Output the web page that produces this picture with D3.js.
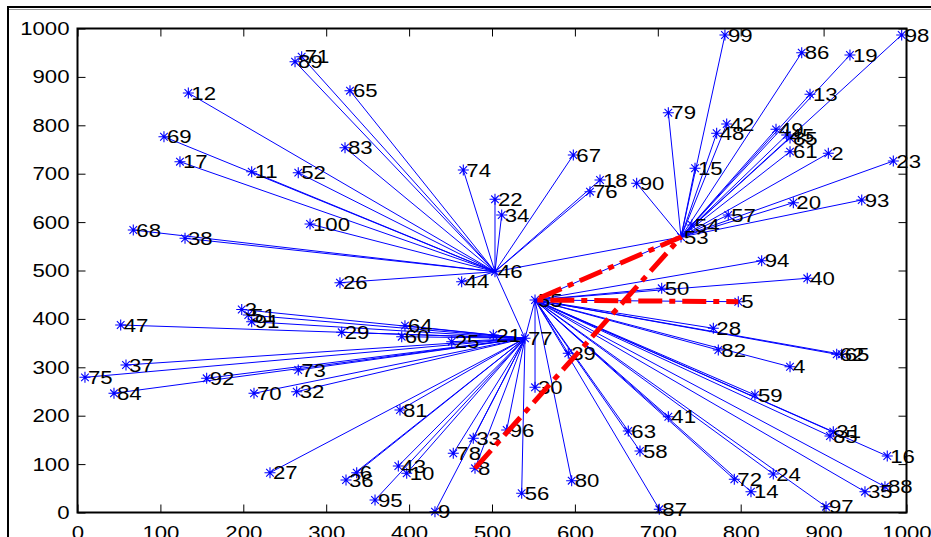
<!DOCTYPE html>
<html><head><meta charset="utf-8">
<script src="https://cdn.jsdelivr.net/npm/d3@7"></script>
<style>body{margin:0;background:#fff;overflow:hidden}</style>
</head><body>
<svg id="c" width="931" height="537"></svg>
<script>
// ---- data ----
const nodeLabels = ["12","69","17","71","89","65","83","11","52","74","67","18","76","100","68","38","26","44","22","34",
 "46","79","90","99","86","19","98","13","42","48","49","45","85","15","61","2","23","54","57","20","93","53",
 "55","5","50","94","40","28","82","4","62","65","59","31","85","16","88","35","97","24","14","72","87","41","63","58","80","39","30",
 "77","47","3","51","91","29","64","60","25","21","37","75","84","92","73","70","32","81","27","6","36","43","10","95","9","78","33","96","56","8"];
const nodeX = [133.7,104.3,123.6,270.4,262.4,328.7,322.7,210.1,266.3,465.4,598.1,630.3,618.2,280.5,67.3,129.7,316.6,463.4,503.6,511.7,
 503.6,712.7,674.5,781,873.6,931.8,994.2,883.6,783.1,771,842.6,855.5,859.5,744.9,859.5,905.7,984.1,741,785,863.5,946,728,
 551.9,797.1,704.7,825.3,880.3,767,773,859.5,915.8,921.8,817.2,911.7,907.7,976.8,974,949.9,902.9,839.3,812.4,792.3,701.8,712.7,664.4,678.5,596.1,592,551.9,
 539.8,52.1,198.1,206,210.1,318.7,395,391.1,451.4,501.6,58.5,9,44,155.8,266.3,212.9,264.4,389,232.2,336.8,323.9,387,397.1,358.9,431.2,453.3,477.4,517.7,535.8,479.5];
const nodeY = [866.7,776.4,724.8,941.7,931.4,871.5,753.7,704.1,702.1,707.6,738.6,687,662.8,596.1,583.7,566.5,474.8,476.9,647.1,614.7,
 497.5,826,680.2,986.6,950,945.2,986.6,864,802.7,783.5,791.7,780,773.8,711.2,745.5,742.1,726.2,594,614.7,640.1,645.7,569.2,
 439,435.5,463.2,520.2,483.9,380.6,335.7,301.2,326.9,326.9,242.8,166.9,158.1,116.7,53.3,43,12,79.5,43,68.6,6.6,197.9,168.4,127.1,65.7,328.9,258.7,
 359.9,387.4,419.4,408,394.2,372.3,386,363.2,352.9,366.7,304.8,279.3,246.3,277.3,294.4,246.3,249.6,211.8,82.2,82.2,67.1,96.1,81,25.8,1.7,122.3,153.3,170.5,39.7,91.3];
const nodeHead = ["46","46","46","46","46","46","46","46","46","46","46","46","46","46","46","46","46","46","46","46",
 "53","53","53","53","53","53","53","53","53","53","53","53","53","53","53","53","53","53","53","53","53","",
 "53","55","55","55","55","55","55","55","55","55","55","55","55","55","55","55","55","55","55","55","55","55","55","55","55","55","55",
 "55","77","77","77","77","77","77","77","77","77","77","77","77","77","77","77","77","77","77","77","77","77","77","77","77","77","77","77","77","77"];
const extraLinks = [["46","77"]];
const routePath = ["8","53","55","5"];
const xTicks = [0,100,200,300,400,500,600,700,800,900,1000];
const yTicks = [0,100,200,300,400,500,600,700,800,900,1000];

// ---- drawing ----
const svg = d3.select("#c");
const x = d3.scaleLinear().domain([0,1000]).range([77.5,906.5]);
const y = d3.scaleLinear().domain([0,1000]).range([512.5,28.5]);
const SX = 1.2;
const FONT = "'Liberation Sans', Arial, sans-serif";

svg.append("rect").attr("width",931).attr("height",537).attr("fill","#fff");
// outer frame
svg.append("rect").attr("x",8).attr("y",7).attr("width",960).attr("height",560)
  .attr("fill","none").attr("stroke","#000").attr("stroke-width",2);
svg.append("line").attr("x1",9).attr("x2",931).attr("y1",9.5).attr("y2",9.5).attr("stroke","#999").attr("stroke-width",1);

const idx = {};
nodeLabels.forEach((l,i)=>{ if(!(l in idx)) idx[l]=i; });
const nodes = nodeLabels.map((l,i)=>({label:l,x:nodeX[i],y:nodeY[i],head:nodeHead[i]}));

const links = [];
nodes.forEach(n=>{ if(n.head) links.push([n, nodes[idx[n.head]]]); });
extraLinks.forEach(([a,b])=>links.push([nodes[idx[a]],nodes[idx[b]]]));

const gl = svg.append("g");
gl.selectAll("line").data(links).join("line")
  .attr("x1",d=>x(d[0].x)).attr("y1",d=>y(d[0].y))
  .attr("x2",d=>x(d[1].x)).attr("y2",d=>y(d[1].y))
  .attr("stroke","#0000ff").attr("stroke-width",1);

// asterisk markers
const star = "M-5.5,0H5.5M0,-5.5V5.5M-3.8,-3.8L3.8,3.8M-3.8,3.8L3.8,-3.8";
svg.append("g").selectAll("path").data(nodes).join("path")
  .attr("d",star).attr("transform",d=>`translate(${x(d.x)},${y(d.y)})`)
  .attr("stroke","#0000ff").attr("stroke-width",1.1).attr("fill","none");

svg.append("g").selectAll("text").data(nodes).join("text")
  .attr("transform",d=>`translate(${x(d.x)+3},${y(d.y)}) scale(${SX},1)`)
  .attr("dy","0.36em").attr("font-family",FONT).attr("font-size",18.5).attr("fill","#000")
  .text(d=>d.label);

// route
const route = routePath.map(l=>nodes[idx[l]]);
svg.append("path").attr("d",d3.line().x(d=>x(d.x)).y(d=>y(d.y))(route))
  .attr("fill","none").attr("stroke","#ff0000").attr("stroke-width",5)
  .attr("stroke-dasharray","24,7,6,7");

// axes
function styleAxis(g){
  g.select(".domain").remove();
  g.selectAll(".tick line").attr("stroke","#000").attr("stroke-width",1);
  g.selectAll("text").attr("font-family",FONT).attr("font-size",18.5).attr("fill","#000");
}
svg.append("g").attr("transform","translate(0,512.5)")
  .call(d3.axisBottom(x).tickValues(xTicks).tickSize(-8).tickPadding(13).tickFormat(d3.format("d")))
  .call(styleAxis).selectAll("text").attr("transform",`scale(${SX},1)`);
svg.append("g").attr("transform","translate(77.5,0)")
  .call(d3.axisLeft(y).tickValues(yTicks).tickSize(-8).tickPadding(8).tickFormat(d3.format("d")))
  .call(styleAxis).selectAll("text").attr("x",-8/SX).attr("transform",`scale(${SX},1)`);
svg.append("g").attr("transform","translate(0,28.5)")
  .call(d3.axisTop(x).tickValues(xTicks).tickSize(-8).tickFormat(""))
  .call(styleAxis);
svg.append("g").attr("transform","translate(906.5,0)")
  .call(d3.axisRight(y).tickValues(yTicks).tickSize(-8).tickFormat(""))
  .call(styleAxis);
svg.append("rect").attr("x",77.5).attr("y",28.5).attr("width",829).attr("height",484)
  .attr("fill","none").attr("stroke","#000").attr("stroke-width",2);
</script>
</body></html>
